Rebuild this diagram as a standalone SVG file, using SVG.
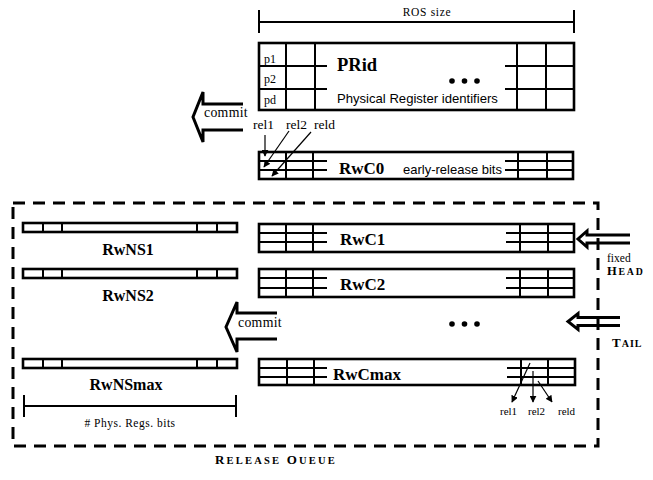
<svg xmlns="http://www.w3.org/2000/svg" width="653" height="480" viewBox="0 0 653 480">
<style>
.box{fill:none;stroke:#000;stroke-width:2.6}
.ln{fill:none;stroke:#000;stroke-width:2}
.thick{fill:none;stroke:#000;stroke-width:3}
.thin{fill:none;stroke:#000;stroke-width:1.2}
.serif{font-family:"Liberation Serif","Times New Roman",serif;fill:#000}
.sans{font-family:"Liberation Sans",Arial,sans-serif;fill:#000}
.bold{font-weight:bold}
.dash{fill:none;stroke:#000;stroke-width:3;stroke-dasharray:12 8}
.dot{fill:#000}
</style>
<defs>
<marker id="ah" viewBox="0 0 10 10" refX="9" refY="5" markerWidth="7" markerHeight="7" markerUnits="userSpaceOnUse" orient="auto">
<path d="M0,0 L10,5 L0,10 z" fill="#000"/>
</marker>
</defs>
<rect width="653" height="480" fill="#fff"/>

<!-- ROS size dimension -->
<g id="ros-size">
<path class="ln" d="M259,10 V33 M574,10 V33 M259,22 H574"/>
<text class="serif" x="427" y="16" font-size="11.5" text-anchor="middle" letter-spacing="0.7">ROS size</text>
</g>

<!-- PRid block -->
<g id="prid">
<rect class="box" x="259" y="43" width="315" height="67"/>
<path class="ln" d="M286,43 V110 M315,43 V110 M517,43 V110 M546,43 V110 M259,66 H327 M259,89 H327 M505,66 H574 M505,89 H574"/>
<text class="serif" x="264" y="63" font-size="12">p1</text>
<text class="serif" x="264" y="83" font-size="12">p2</text>
<text class="serif" x="264" y="104" font-size="12">pd</text>
<text class="serif bold" x="337" y="71" font-size="18.5">PRid</text>
<circle class="dot" cx="452" cy="81" r="2.8"/><circle class="dot" cx="464.5" cy="81" r="2.8"/><circle class="dot" cx="477" cy="81" r="2.8"/>
<text class="sans" x="337" y="103" font-size="13.1">Physical Register identifiers</text>
</g>

<!-- commit arrow top -->
<g id="commit-top">
<path class="thick" d="M243,104 H203 V92 L193,117 L203,142 V130 H243"/>
<text class="serif" x="204" y="117" font-size="13.8" letter-spacing="0.3">commit</text>
</g>

<!-- RwC0 -->
<g id="rwc0">
<rect class="box" x="259" y="152" width="314" height="27"/>
<path class="ln" d="M286,152 V179 M313,152 V179 M518,152 V179 M547,152 V179 M259,161 H327 M259,170 H327 M505,161 H573 M505,170 H573"/>
<text class="serif bold" x="339" y="174" font-size="17">RwC0</text>
<text class="sans" x="403" y="174" font-size="13">early-release bits</text>
<text class="serif" x="253" y="129" font-size="13.5">rel1</text>
<text class="serif" x="286" y="129" font-size="13.5">rel2</text>
<text class="serif" x="314" y="129" font-size="13.5">reld</text>
</g>

<!-- Release queue container -->
<g id="release-queue">
<rect class="dash" x="13" y="203" width="585" height="243"/>
<text class="serif bold" x="215" y="464" letter-spacing="2.2"><tspan font-size="13">R</tspan><tspan font-size="10.5">ELEASE</tspan><tspan font-size="13"> O</tspan><tspan font-size="10.5">UEUE</tspan></text>
</g>

<!-- RwNS bars -->
<g id="rwns1">
<rect class="box" x="23" y="223" width="214" height="9"/>
<path class="ln" d="M43,223 V232 M62,223 V232 M197,223 V232 M217,223 V232"/>
<text class="serif bold" x="128" y="255" font-size="16" text-anchor="middle">RwNS1</text>
</g>
<g id="rwns2">
<rect class="box" x="23" y="269" width="214" height="9"/>
<path class="ln" d="M43,269 V278 M62,269 V278 M197,269 V278 M217,269 V278"/>
<text class="serif bold" x="128" y="301" font-size="16" text-anchor="middle">RwNS2</text>
</g>
<g id="rwnsmax">
<rect class="box" x="23" y="359" width="214" height="9"/>
<path class="ln" d="M43,359 V368 M62,359 V368 M197,359 V368 M217,359 V368"/>
<text class="serif bold" x="126" y="390" font-size="16" text-anchor="middle">RwNSmax</text>
</g>
<g id="phys-bits">
<path class="ln" d="M24,395 V417 M236,395 V417 M24,406 H236"/>
<text class="serif" x="130" y="427" font-size="11.5" text-anchor="middle" letter-spacing="0.5"># Phys. Regs. bits</text>
</g>

<!-- RwC rows -->
<g id="rwc1">
<rect class="box" x="259" y="224" width="315" height="28"/>
<path class="ln" d="M286,224 V252 M313,224 V252 M520,224 V252 M548,224 V252 M259,233 H327 M259,242 H327 M506,233 H574 M506,242 H574"/>
<text class="serif bold" x="340" y="245" font-size="17">RwC1</text>
</g>
<g id="rwc2">
<rect class="box" x="259" y="269" width="315" height="28"/>
<path class="ln" d="M286,269 V297 M313,269 V297 M520,269 V297 M548,269 V297 M259,278 H327 M259,288 H327 M506,278 H574 M506,288 H574"/>
<text class="serif bold" x="340" y="290" font-size="17">RwC2</text>
</g>
<g id="dots-mid">
<circle class="dot" cx="452" cy="324" r="2.8"/><circle class="dot" cx="464.5" cy="324" r="2.8"/><circle class="dot" cx="477" cy="324" r="2.8"/>
</g>
<g id="rwcmax">
<rect class="box" x="259" y="359" width="316" height="26"/>
<path class="ln" d="M287,359 V385 M314,359 V385 M521,359 V385 M548,359 V385 M259,368 H327 M259,377 H327 M507,368 H575 M507,377 H575"/>
<text class="serif bold" x="333" y="380" font-size="17">RwCmax</text>
<text class="serif" x="500" y="415" font-size="11">rel1</text>
<text class="serif" x="528" y="415" font-size="11">rel2</text>
<text class="serif" x="558" y="415" font-size="11">reld</text>
</g>

<!-- commit arrow middle -->
<g id="commit-mid">
<path class="thick" d="M277,313 H237 V302 L226,327 L237,352 V339 H277"/>
<text class="serif" x="238" y="327" font-size="13.8" letter-spacing="0.3">commit</text>
</g>

<!-- head / tail pointers -->
<g id="head">
<path class="thick" d="M630,235 H587 V231 L578,239 L587,247 V243 H630"/>
<text class="serif" x="607" y="262" font-size="11.5">fixed</text>
<text class="serif bold" x="607" y="275" letter-spacing="1.8"><tspan font-size="12.5">H</tspan><tspan font-size="9.8">EAD</tspan></text>
</g>
<g id="tail">
<path class="thick" d="M620,317.5 H578 V313.5 L568,321.5 L578,329.5 V325.5 H620"/>
<text class="serif bold" x="612" y="347" letter-spacing="1"><tspan font-size="13">T</tspan><tspan font-size="10">AIL</tspan></text>
</g>

<!-- connectors -->
<g id="connectors">
<path class="thin" d="M265,135 V156" marker-end="url(#ah)"/>
<path class="thin" d="M289,131 L264,167" marker-end="url(#ah)"/>
<path class="thin" d="M311,132 L272,176" marker-end="url(#ah)"/>
<path class="thin" d="M530,363 L512,402" marker-end="url(#ah)"/>
<path class="thin" d="M533,371 V402" marker-end="url(#ah)"/>
<path class="thin" d="M538,381 L552,402" marker-end="url(#ah)"/>
</g>
</svg>
